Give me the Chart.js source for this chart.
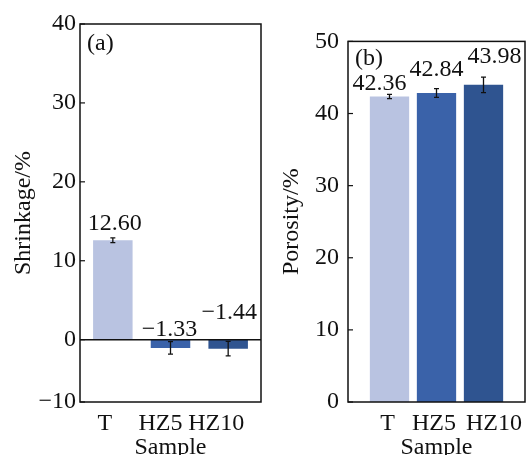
<!DOCTYPE html>
<html><head><meta charset="utf-8">
<script src="https://cdn.jsdelivr.net/npm/chart.js@4/dist/chart.umd.min.js"></script>
<style>
html,body{margin:0;padding:0;background:#fff;overflow:hidden}
#wrap{position:relative;width:527px;height:455px;overflow:hidden}
canvas{position:absolute;top:0}
</style></head><body>
<div id="wrap">
<canvas id="c1" width="263" height="455" style="left:0px"></canvas>
<canvas id="c2" width="264" height="455" style="left:263px"></canvas>
</div>
<script>
// ---- data ----
const samples = ['T', 'HZ5', 'HZ10'];
const shrinkage = [12.60, -1.33, -1.44];
const shrinkageErr = [0.3, 1.0, 1.15];
const porosity = [42.36, 42.84, 43.98];
const porosityErr = [0.3, 0.6, 1.08];
const shrinkageTicks = [-10, 0, 10, 20, 30, 40];
const porosityTicks = [0, 10, 20, 30, 40, 50];
const barColors = ['#b9c3e1', '#3a62a9', '#2f5490'];

const FONT = "'Liberation Serif', 'Times New Roman', serif";
const FS = 24;
const INK = '#111';
const fmt = v => (v < 0 ? '\u2212' + Math.abs(v) : String(v));
const fmt2 = v => (v < 0 ? '\u2212' + Math.abs(v).toFixed(2) : v.toFixed(2));

// piecewise linear scale: negative part compressed (as in the reference panel a)
class PiecewiseScale extends Chart.LinearScale {
  _span() {
    const r = this.options.negRatio || 1;
    const neg = Math.max(0, -this.min) * r;
    return { r, neg, total: neg + Math.max(0, this.max) };
  }
  getPixelForValue(value) {
    if (value === null || value === undefined || isNaN(value)) return NaN;
    const { r, neg, total } = this._span();
    const u = value >= 0 ? neg + value : (value - this.min) * r;
    return this.getPixelForDecimal(u / total);
  }
  getValueForPixel(pixel) {
    const { r, neg, total } = this._span();
    const u = this.getDecimalForPixel(pixel) * total;
    return u >= neg ? u - neg : u / r + this.min;
  }
}
PiecewiseScale.id = 'piecewise';
Chart.register(PiecewiseScale);

const panelPlugin = {
  id: 'panel',
  afterDatasetsDraw(chart, args, o) {
    const { ctx, chartArea: a } = chart;
    const y = chart.scales.y, x = chart.scales.x;
    const L = a.left - o.ext, R = a.right + o.ext, T = a.top, B = a.bottom;
    ctx.save();
    ctx.strokeStyle = INK;
    ctx.fillStyle = INK;
    // zero line
    if (y.min < 0) {
      const z = y.getPixelForValue(0);
      ctx.lineWidth = 1.5;
      ctx.beginPath(); ctx.moveTo(L, z); ctx.lineTo(R, z); ctx.stroke();
    }
    // error bars + value labels
    const meta = chart.getDatasetMeta(0);
    const vals = chart.data.datasets[0].data;
    ctx.font = FS + 'px ' + FONT;
    ctx.textAlign = 'center';
    ctx.textBaseline = 'alphabetic';
    meta.data.forEach((bar, i) => {
      const v = vals[i], e = o.err[i];
      const y1 = y.getPixelForValue(v + e), y2 = y.getPixelForValue(v - e);
      const cx = bar.x;
      ctx.lineWidth = 1.3;
      ctx.beginPath();
      ctx.moveTo(cx, y1); ctx.lineTo(cx, y2);
      ctx.moveTo(cx - 2.5, y1); ctx.lineTo(cx + 2.5, y1);
      ctx.moveTo(cx - 2.5, y2); ctx.lineTo(cx + 2.5, y2);
      ctx.stroke();
      const anchor = y.getPixelForValue(Math.max(0, v + e));
      ctx.fillText(fmt2(v), cx + o.labelDx[i], anchor - o.labelLift[i]);
    });
    // category labels under the axis
    chart.data.labels.forEach((lab, i) => {
      ctx.fillText(lab, x.getPixelForTick(i) + o.xDx[i], B + 28);
    });
    // inward y ticks
    ctx.lineWidth = 1.2;
    y.ticks.forEach(t => {
      const py = y.getPixelForValue(t.value);
      ctx.beginPath(); ctx.moveTo(L, py); ctx.lineTo(L + 5, py); ctx.stroke();
    });
    // frame
    ctx.lineWidth = 1.5;
    ctx.strokeRect(L, T, R - L, B - T);
    // panel letter
    ctx.textAlign = 'left';
    ctx.fillText(o.letter, L + o.letterDx, T + o.letterDy);
    ctx.restore();
  }
};

function makeChart(id, values, err, ticks, opts) {
  const min = ticks[0], max = ticks[ticks.length - 1], step = ticks[1] - ticks[0];
  return new Chart(document.getElementById(id), {
    type: 'bar',
    data: {
      labels: samples,
      datasets: [{
        data: values,
        backgroundColor: barColors,
        borderWidth: 0,
        barPercentage: opts.barPct,
        categoryPercentage: 1
      }]
    },
    plugins: [panelPlugin],
    options: {
      responsive: false,
      devicePixelRatio: 1,
      animation: false,
      layout: { padding: { top: 24, right: opts.padRight, left: 0, bottom: 0 } },
      plugins: {
        legend: { display: false },
        tooltip: { enabled: false },
        panel: {
          err: err, ext: opts.ext, labelDx: opts.labelDx, labelLift: opts.labelLift,
          xDx: opts.xDx, letter: opts.letter, letterDx: 7, letterDy: opts.letterDy
        }
      },
      scales: {
        x: {
          type: 'category',
          offset: true,
          grid: { display: false, drawTicks: false },
          border: { display: false },
          ticks: { display: false },
          title: {
            display: true, text: 'Sample', color: INK,
            font: { family: FONT, size: FS, lineHeight: 1 },
            padding: { top: 0, bottom: -5 }
          },
          afterFit: s => { s.height = 53; }
        },
        y: {
          type: opts.yType,
          negRatio: opts.negRatio,
          min: min, max: max,
          grid: { display: false, drawTicks: false },
          border: { display: false },
          ticks: {
            stepSize: step, color: INK, font: { family: FONT, size: FS },
            padding: opts.yPad, callback: v => fmt(v)
          },
          title: {
            display: true, text: opts.yTitle, color: INK,
            font: { family: FONT, size: FS, lineHeight: 1.2 },
            padding: { top: opts.yTitlePad, bottom: 0 }
          },
          afterFit: s => { s.width = opts.yWidth; }
        }
      }
    }
  });
}

makeChart('c1', shrinkage, shrinkageErr, shrinkageTicks, {
  yType: 'piecewise', negRatio: 0.79, yTitle: 'Shrinkage/%',
  yWidth: 84, padRight: 6, ext: 4, yPad: 8, yTitlePad: 9,
  barPct: 0.685, xDx: [-8, -10, -12],
  labelDx: [2, -1, 1], labelLift: [8, 4, 21],
  letter: '(a)', letterDy: 26
});

makeChart('c2', porosity, porosityErr, porosityTicks, {
  yType: 'linear', negRatio: 1, yTitle: 'Porosity/%',
  yWidth: 103, padRight: 20, ext: 18, yPad: 27, yTitlePad: 14,
  barPct: 0.836, xDx: [-2, -2.5, 10.5],
  labelDx: [-10, 0, 11], labelLift: [4, 12.5, 14.5],
  letter: '(b)', letterDy: 24
});
</script>
</body></html>
